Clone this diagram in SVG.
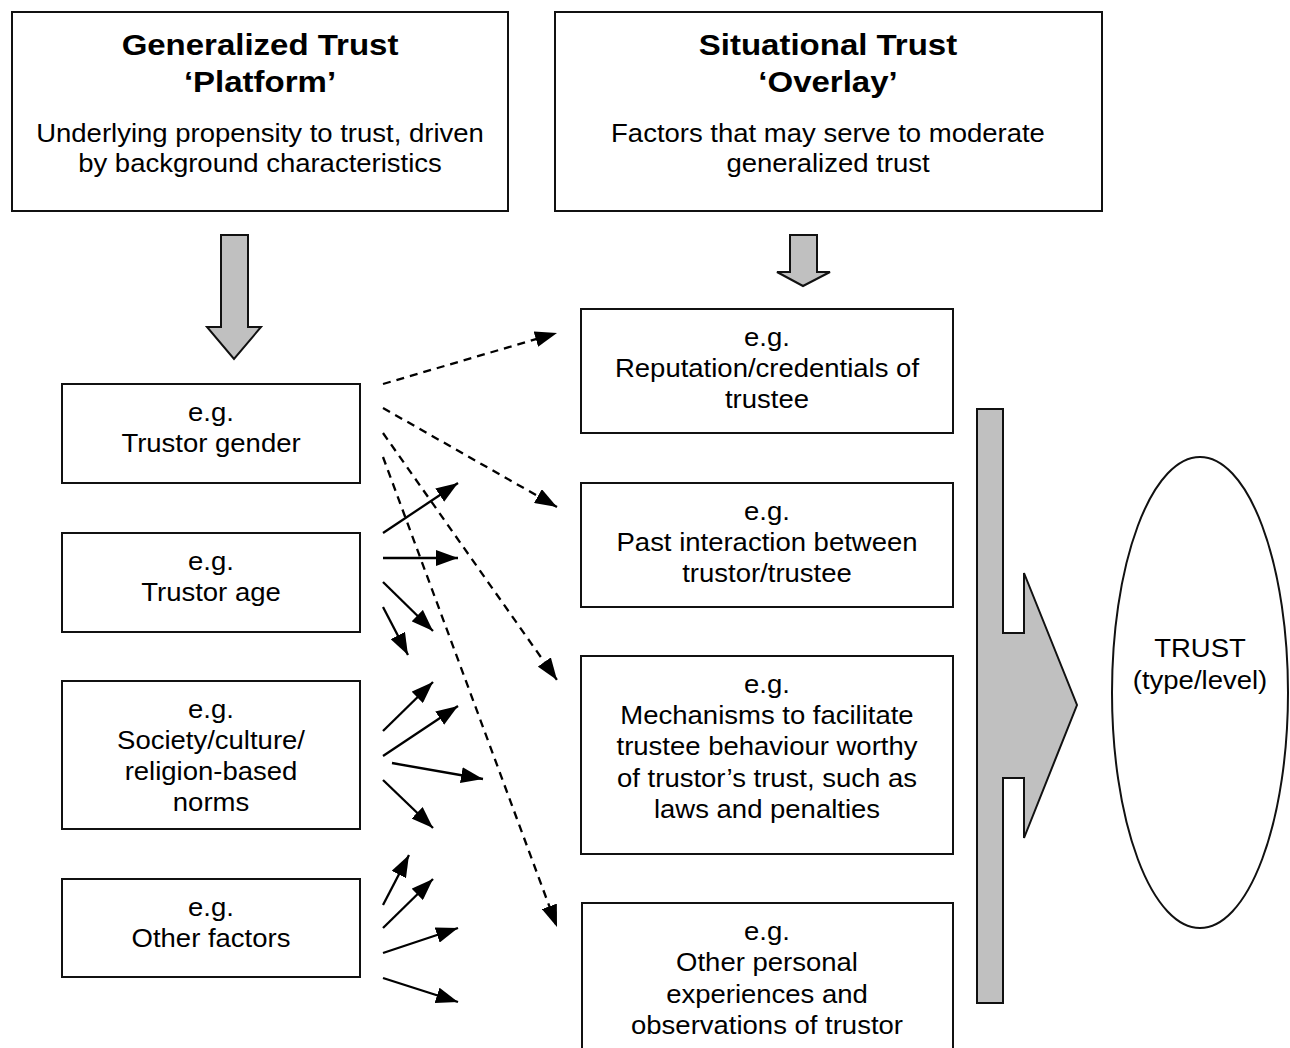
<svg xmlns="http://www.w3.org/2000/svg" width="1290" height="1048" viewBox="0 0 1290 1048">
<defs>
<marker id="ah" viewBox="0 0 22 16" refX="22" refY="8" markerWidth="22" markerHeight="16" markerUnits="userSpaceOnUse" orient="auto">
<path d="M0,0 L22,8 L0,16 Z" fill="#000"/>
</marker>
<style>
.box{fill:#fff;stroke:#111;stroke-width:2}
.blk{fill:#c0c0c0;stroke:#111;stroke-width:2;stroke-linejoin:miter}
.t{font-family:"Liberation Sans",Arial,sans-serif;font-size:25px;fill:#000;text-anchor:middle}
.h{font-family:"Liberation Sans",Arial,sans-serif;font-size:30px;font-weight:bold;fill:#000;text-anchor:middle}
.sol{stroke:#000;stroke-width:2.3;fill:none;marker-end:url(#ah)}
.dsh{stroke:#000;stroke-width:2.3;fill:none;stroke-dasharray:8 6;marker-end:url(#ah)}
</style>
</defs>
<rect width="1290" height="1048" fill="#fff"/>

<g id="generalized">
<rect class="box" x="12" y="12" width="496" height="199"/>
<text class="h" transform="matrix(1.1 0 0 1 260 0)" x="0" y="55">Generalized Trust</text>
<text class="h" transform="matrix(1.1 0 0 1 260 0)" x="0" y="92">‘Platform’</text>
<text class="t" transform="matrix(1.1 0 0 1 260 0)" x="0" y="142">Underlying propensity to trust, driven</text>
<text class="t" transform="matrix(1.1 0 0 1 260 0)" x="0" y="172">by background characteristics</text>
</g>

<g id="situational">
<rect class="box" x="555" y="12" width="547" height="199"/>
<text class="h" transform="matrix(1.1 0 0 1 828 0)" x="0" y="55">Situational Trust</text>
<text class="h" transform="matrix(1.1 0 0 1 828 0)" x="0" y="92">‘Overlay’</text>
<text class="t" transform="matrix(1.1 0 0 1 828 0)" x="0" y="142">Factors that may serve to moderate</text>
<text class="t" transform="matrix(1.1 0 0 1 828 0)" x="0" y="172">generalized trust</text>
</g>

<g id="arrow-down-1">
<polygon class="blk" points="221,235 248,235 248,327 261,327 234,359 207,327 221,327"/>
</g>
<g id="arrow-down-2">
<polygon class="blk" points="790,235 817,235 817,272 830,272 803,286 777,272 790,272"/>
</g>

<g id="gender">
<rect class="box" x="62" y="384" width="298" height="99"/>
<text class="t" transform="matrix(1.1 0 0 1 211 0)" x="0" y="421">e.g.</text>
<text class="t" transform="matrix(1.1 0 0 1 211 0)" x="0" y="452">Trustor gender</text>
</g>
<g id="age">
<rect class="box" x="62" y="533" width="298" height="99"/>
<text class="t" transform="matrix(1.1 0 0 1 211 0)" x="0" y="570">e.g.</text>
<text class="t" transform="matrix(1.1 0 0 1 211 0)" x="0" y="601">Trustor age</text>
</g>
<g id="society">
<rect class="box" x="62" y="681" width="298" height="148"/>
<text class="t" transform="matrix(1.1 0 0 1 211 0)" x="0" y="718">e.g.</text>
<text class="t" transform="matrix(1.1 0 0 1 211 0)" x="0" y="749">Society/culture/</text>
<text class="t" transform="matrix(1.1 0 0 1 211 0)" x="0" y="780">religion-based</text>
<text class="t" transform="matrix(1.1 0 0 1 211 0)" x="0" y="811">norms</text>
</g>
<g id="other-factors">
<rect class="box" x="62" y="879" width="298" height="98"/>
<text class="t" transform="matrix(1.1 0 0 1 211 0)" x="0" y="916">e.g.</text>
<text class="t" transform="matrix(1.1 0 0 1 211 0)" x="0" y="947">Other factors</text>
</g>

<g id="reputation">
<rect class="box" x="581" y="309" width="372" height="124"/>
<text class="t" transform="matrix(1.1 0 0 1 767 0)" x="0" y="346">e.g.</text>
<text class="t" transform="matrix(1.1 0 0 1 767 0)" x="0" y="377">Reputation/credentials of</text>
<text class="t" transform="matrix(1.1 0 0 1 767 0)" x="0" y="408">trustee</text>
</g>
<g id="past">
<rect class="box" x="581" y="483" width="372" height="124"/>
<text class="t" transform="matrix(1.1 0 0 1 767 0)" x="0" y="520">e.g.</text>
<text class="t" transform="matrix(1.1 0 0 1 767 0)" x="0" y="551">Past interaction between</text>
<text class="t" transform="matrix(1.1 0 0 1 767 0)" x="0" y="582">trustor/trustee</text>
</g>
<g id="mechanisms">
<rect class="box" x="581" y="656" width="372" height="198"/>
<text class="t" transform="matrix(1.1 0 0 1 767 0)" x="0" y="693">e.g.</text>
<text class="t" transform="matrix(1.1 0 0 1 767 0)" x="0" y="724">Mechanisms to facilitate</text>
<text class="t" transform="matrix(1.1 0 0 1 767 0)" x="0" y="755">trustee behaviour worthy</text>
<text class="t" transform="matrix(1.1 0 0 1 767 0)" x="0" y="787">of trustor’s trust, such as</text>
<text class="t" transform="matrix(1.1 0 0 1 767 0)" x="0" y="818">laws and penalties</text>
</g>
<g id="other-personal">
<rect class="box" x="582" y="903" width="371" height="160"/>
<text class="t" transform="matrix(1.1 0 0 1 767 0)" x="0" y="940">e.g.</text>
<text class="t" transform="matrix(1.1 0 0 1 767 0)" x="0" y="971">Other personal</text>
<text class="t" transform="matrix(1.1 0 0 1 767 0)" x="0" y="1003">experiences and</text>
<text class="t" transform="matrix(1.1 0 0 1 767 0)" x="0" y="1034">observations of trustor</text>
</g>

<g id="combine-arrow">
<polygon class="blk" points="977,409 1003,409 1003,633 1024,633 1024,573 1077,705 1024,838 1024,778 1003,778 1003,1003 977,1003"/>
</g>

<g id="trust">
<ellipse cx="1200" cy="692.5" rx="88" ry="235.5" fill="#fff" stroke="#111" stroke-width="2"/>
<text class="t" transform="matrix(1.1 0 0 1 1200 0)" x="0" y="657">TRUST</text>
<text class="t" transform="matrix(1.1 0 0 1 1200 0)" x="0" y="689">(type/level)</text>
</g>

<g id="connectors">
<line class="dsh" x1="383" y1="384" x2="557" y2="333"/>
<line class="dsh" x1="383" y1="408" x2="557" y2="507"/>
<line class="dsh" x1="383" y1="433" x2="557" y2="680"/>
<line class="dsh" x1="383" y1="457" x2="557" y2="927"/>
<line class="sol" x1="383" y1="533" x2="458" y2="483"/>
<line class="sol" x1="383" y1="558" x2="458" y2="558"/>
<line class="sol" x1="383" y1="582" x2="433" y2="631"/>
<line class="sol" x1="383" y1="607" x2="408" y2="655"/>
<line class="sol" x1="383" y1="731" x2="433" y2="682"/>
<line class="sol" x1="383" y1="756" x2="458" y2="706"/>
<line class="sol" x1="392" y1="763" x2="483" y2="779"/>
<line class="sol" x1="383" y1="780" x2="433" y2="828"/>
<line class="sol" x1="383" y1="905" x2="409" y2="855"/>
<line class="sol" x1="383" y1="928" x2="433" y2="879"/>
<line class="sol" x1="383" y1="953" x2="458" y2="928"/>
<line class="sol" x1="383" y1="978" x2="458" y2="1002"/>
</g>
</svg>
